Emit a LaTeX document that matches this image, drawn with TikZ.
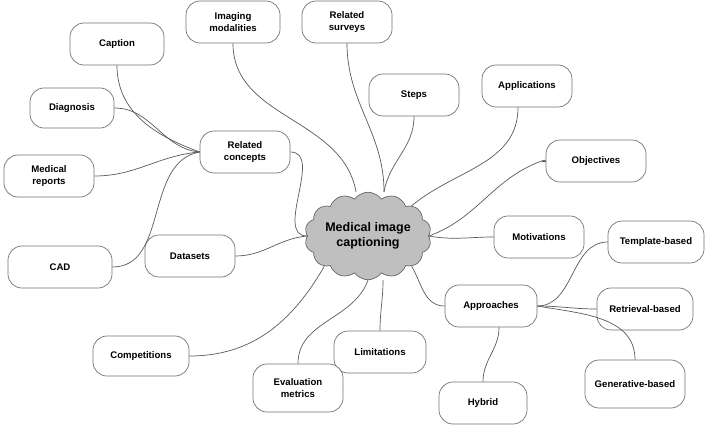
\documentclass[tikz,border=0pt]{standalone}
\usepackage{fontspec}
\setmainfont{Liberation Sans}
\usetikzlibrary{shapes.symbols}
\begin{document}
\begin{tikzpicture}[x=1pt,y=-1pt,
  box/.style={draw=black!55, line width=0.7pt, rounded corners=14pt, fill=white, align=center, font=\bfseries\fontsize{9.6}{11.5}\selectfont, minimum height=42pt, minimum width=90pt, inner sep=2pt},
  link/.style={draw=black!65, line width=0.7pt}]
\useasboundingbox (0,0) rectangle (709,428);
\node[cloud, cloud puffs=14, cloud puff arc=110, aspect=1.6, draw=black!60, fill=black!25, line width=0.7pt, align=center, font=\bfseries\fontsize{12.5}{15}\selectfont, minimum width=112pt, minimum height=80pt, inner sep=0pt] (c) at (368,236) {Medical image\\captioning};
\node[box, minimum width=94pt] (cap) at (117,44) {Caption};
\node[box, minimum width=94pt] (img) at (233,22) {Imaging\\modalities};
\node[box] (rs) at (347,22) {Related\\surveys};
\node[box] (st) at (414,95) {Steps};
\node[box] (ap) at (527,86) {Applications};
\node[box, minimum width=100pt] (ob) at (596,161) {Objectives};
\node[box, minimum width=84pt, minimum height=40pt] (dg) at (72,108) {Diagnosis};
\node[box] (rc) at (245,152) {Related\\concepts};
\node[box] (mr) at (49,176) {Medical\\reports};
\node[box, minimum width=104pt] (cad) at (60,267) {CAD};
\node[box] (ds) at (190,256) {Datasets};
\node[box] (mo) at (539,237) {Motivations};
\node[box, minimum width=96pt] (tb) at (656,242) {Template-based};
\node[box, minimum width=92pt] (apr) at (491,306) {Approaches};
\node[box, minimum width=96pt] (rb) at (645,309) {Retrieval-based};
\node[box, minimum width=100pt, minimum height=48pt] (gb) at (635,384) {Generative-based};
\node[box, minimum width=88pt] (hy) at (483,403) {Hybrid};
\node[box, minimum width=92pt] (li) at (380,352) {Limitations};
\node[box, minimum width=96pt, minimum height=40pt] (co) at (141,356) {Competitions};
\node[box, minimum height=48pt] (em) at (298,388) {Evaluation\\metrics};
\coordinate (loop) at ([xshift=-4pt]ob.west);
\path[link] (cap.south) to[out=-90,in=160] (rc.west);
\path[link] (dg.east) to[out=0,in=175] (rc.west);
\path[link] (mr.east) to[out=0,in=185] (rc.west);
\path[link] (cad.east) to[out=0,in=190] (rc.west);
\path[link] (rc.east) to[out=0,in=180] (c.west);
\path[link] (img.south) to[out=-90,in=100] ([xshift=-12pt]c.north);
\path[link] (rs.south) to[out=-90,in=90] ([xshift=16pt]c.north);
\path[link] (st.south) to[out=-90,in=80] ([xshift=16pt]c.north);
\path[link] ([xshift=-9pt]ap.south) to[out=-90,in=40] (c.north east);
\path[link] (c.east) to[out=20,in=200] (loop);
\path[link] (loop) to[out=20,in=90] ([xshift=4pt]loop) to[out=-90,in=-20] (loop);
\path[link] (loop) -- (ob.west);
\path[link] (c.east) to[out=-10,in=180] (mo.west);
\path[link] (ds.east) to[out=0,in=185] (c.west);
\path[link] (co.east) to[out=0,in=-120] (c.south west);
\path[link] (em.north) to[out=90,in=-110] (c.south);
\path[link] (li.north) to[out=90,in=-90] ([xshift=15pt]c.south);
\path[link] (apr.west) to[out=180,in=-60] (c.south east);
\path[link] (apr.east) to[out=0,in=180] (tb.west);
\path[link] (apr.east) to[out=0,in=180] (rb.west);
\path[link] (apr.east) to[out=-10,in=90] (gb.north);
\path[link] ([xshift=8pt]apr.south) to[out=-90,in=90] (hy.north);
\end{tikzpicture}
\end{document}
